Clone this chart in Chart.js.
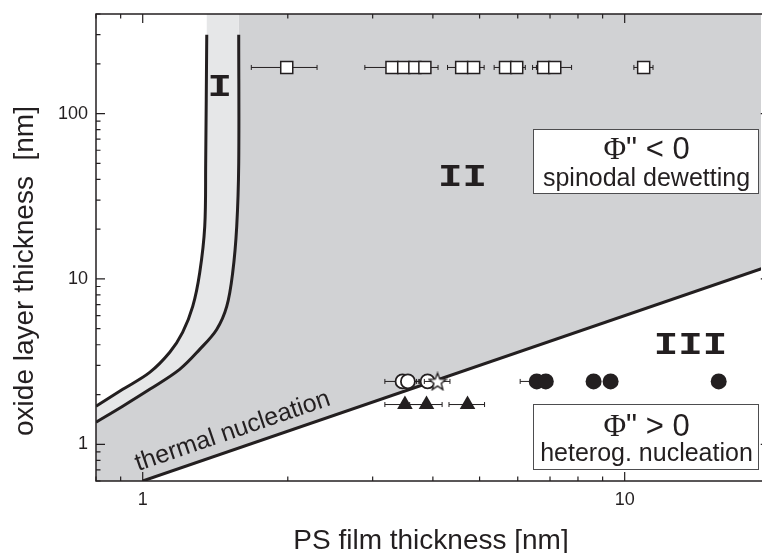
<!DOCTYPE html>
<html>
<head>
<meta charset="utf-8">
<script src="https://cdn.jsdelivr.net/npm/chart.js@4.4.1/dist/chart.umd.min.js"></script>
<style>
  html, body { margin: 0; padding: 0; background: #fff; overflow: hidden; }
</style>
</head>
<body>
<canvas id="phaseChart" width="762" height="553"></canvas>
<script>
// visible x range ends at the picture edge; the right axis itself sits at x = 20, just off-canvas
const xMin = 0.8, xMax = 19.18, xAxisRight = 20, yMin = 0.6, yMax = 400;

// boundary of region I (outer / left curve)
const outerX = [1.358, 1.351, 1.345, 1.313, 1.27, 1.21, 1.138, 1.034, 0.909, 0.8];
const outerY = [300, 50, 20.8, 10.9, 6.82, 4.75, 3.6, 2.72, 2.15, 1.7];
// boundary of region I (inner / right curve)
const innerX = [1.582, 1.582, 1.567, 1.537, 1.494, 1.424, 1.313, 1.193, 1.034, 0.909, 0.8];
const innerY = [300, 50, 20.8, 10.9, 6.82, 4.95, 3.75, 2.84, 2.15, 1.7, 1.36];
// thermal nucleation line
const thermalX = [1, 20];
const thermalY = [0.6, 12];

// measured points
const squareX = [1.99, 3.29, 3.48, 3.67, 3.85, 4.59, 4.86, 5.66, 5.97, 6.79, 7.16, 10.95];
const squareErr = [0.31, 0.4, 0.2, 0.2, 0.25, 0.3, 0.25, 0.3, 0.25, 0.35, 0.6, 0.5];
const squareY = 190;
const openCircleX = [3.46, 3.55, 3.9];
const openCircleErr = [0.28, 0.2, 0.2];
const starX = [4.09];
const starErr = [0.25];
const circleRowY = 2.4;
const filledCircleX = [6.57, 6.86, 8.62, 9.35, 15.67];
const filledCircleErr = [0.5, 0, 0, 0, 0];
const triangleX = [3.5, 3.88, 4.72];
const triangleErr = [0.32, 0.3, 0.4];
const triangleY = 1.74;

const ink = '#231f20';
const sans = "'Liberation Sans', Arial, sans-serif";

function pts(xs, ys) { return xs.map((x, i) => ({ x: x, y: Array.isArray(ys) ? ys[i] : ys })); }

const lightRegion = [{ x: outerX[0], y: yMax }].concat(pts(outerX, outerY))
  .concat(pts(innerX, innerY).reverse()).concat([{ x: innerX[0], y: yMax }]);
const darkRegion = [{ x: innerX[0], y: yMax }].concat(pts(innerX, innerY))
  .concat([{ x: xMin, y: yMin }]).concat(pts(thermalX, thermalY))
  .concat([{ x: xAxisRight, y: yMax }, { x: innerX[0], y: yMax }]);

const starImg = document.createElement('canvas');
starImg.width = 20; starImg.height = 20;
(function () {
  const c = starImg.getContext('2d');
  c.beginPath();
  for (let i = 0; i < 10; i++) {
    const r = i % 2 === 0 ? 9 : 3.9;
    const a = -Math.PI / 2 + i * Math.PI / 5;
    const px = 10 + r * Math.cos(a), py = 10.8 + r * Math.sin(a);
    if (i === 0) c.moveTo(px, py); else c.lineTo(px, py);
  }
  c.closePath();
  c.fillStyle = '#fff';
  c.fill();
  c.lineWidth = 1.4;
  c.strokeStyle = ink;
  c.stroke();
})();

function logSteps(lo, hi, fn) {
  for (let d = Math.floor(Math.log10(lo)); d <= Math.ceil(Math.log10(hi)); d++) {
    for (let m = 1; m <= 9; m++) {
      const v = m * Math.pow(10, d);
      if (v < lo * 0.999 || v > hi * 1.001) continue;
      fn(v, m === 1);
    }
  }
}

const decorations = {
  id: 'decorations',
  beforeDatasetDraw(chart, args) {
    const ds = chart.data.datasets[args.index];
    if (!ds.xErr) return;
    const ctx = chart.ctx, xs = chart.scales.x, ys = chart.scales.y;
    ctx.save();
    ctx.strokeStyle = ink;
    ctx.lineWidth = 1;
    ds.data.forEach((p, i) => {
      const e = ds.xErr[i];
      if (!e) return;
      const x1 = xs.getPixelForValue(p.x - e), x2 = xs.getPixelForValue(p.x + e);
      const y = ys.getPixelForValue(p.y);
      ctx.beginPath();
      ctx.moveTo(x1, y); ctx.lineTo(x2, y);
      ctx.moveTo(x1, y - 2.5); ctx.lineTo(x1, y + 2.5);
      ctx.moveTo(x2, y - 2.5); ctx.lineTo(x2, y + 2.5);
      ctx.stroke();
    });
    ctx.restore();
  },
  afterDatasetsDraw(chart) {
    const ctx = chart.ctx, a = chart.chartArea, xs = chart.scales.x, ys = chart.scales.y;
    const px = v => xs.getPixelForValue(v), py = v => ys.getPixelForValue(v);
    const L = a.left, T = a.top, B = a.bottom, R = px(xAxisRight);
    ctx.save();
    // frame and inside ticks
    ctx.strokeStyle = ink;
    ctx.lineWidth = 1.5;
    ctx.strokeRect(L, T, R - L, B - T);
    ctx.lineWidth = 1.2;
    ctx.beginPath();
    logSteps(xMin, xAxisRight, (v, major) => {
      const len = major ? 9 : 4.5, p = px(v);
      ctx.moveTo(p, B); ctx.lineTo(p, B - len);
      ctx.moveTo(p, T); ctx.lineTo(p, T + len);
    });
    logSteps(yMin, yMax, (v, major) => {
      const len = major ? 9 : 4.5, p = py(v);
      ctx.moveTo(L, p); ctx.lineTo(L + len, p);
      ctx.moveTo(R, p); ctx.lineTo(R - len, p);
    });
    ctx.stroke();

    // region numerals
    ctx.fillStyle = ink;
    ctx.textAlign = 'center';
    ctx.textBaseline = 'middle';
    ctx.font = "bold 34px 'Liberation Mono', 'Courier New', monospace";
    [['I', 1.445, 143], ['II', 4.61, 40.5], ['III', 13.7, 3.91]].forEach(r => {
      ctx.save();
      ctx.translate(px(r[1]), py(r[2]));
      ctx.scale(1.2, 0.92);
      ctx.fillText(r[0], 0, 0);
      ctx.restore();
    });

    // boxes
    function box(x1, y1, x2, y2, sign, line2, base1) {
      const l = Math.round(px(x1)), t = Math.round(py(y1)), r = Math.round(px(x2)), b = Math.round(py(y2));
      ctx.fillStyle = '#fff';
      ctx.fillRect(l, t, r - l, b - t);
      ctx.strokeStyle = '#4d4d4f';
      ctx.lineWidth = 1;
      ctx.strokeRect(l + 0.5, t + 0.5, r - l, b - t);
      ctx.fillStyle = ink;
      const cx = (l + r) / 2 + 1;
      ctx.textBaseline = 'alphabetic';
      ctx.font = "31px 'Liberation Serif', 'Times New Roman', serif";
      const phiW = ctx.measureText('\u03A6').width;
      ctx.font = '31px ' + sans;
      const restTxt = '" ' + sign + ' 0';
      const restW = ctx.measureText(restTxt).width;
      const start = cx - (phiW + restW) / 2;
      ctx.textAlign = 'left';
      ctx.font = "31px 'Liberation Serif', 'Times New Roman', serif";
      ctx.fillText('\u03A6', start, t + base1);
      ctx.font = '31px ' + sans;
      ctx.fillText(restTxt, start + phiW, t + base1);
      ctx.textAlign = 'center';
      ctx.font = '25px ' + sans;
      ctx.fillText(line2, cx, t + 57);
    }
    box(6.45, 81.2, 18.9, 33.3, '<', 'spinodal dewetting', 30);
    box(6.45, 1.745, 18.9, 0.706, '>', 'heterog. nucleation', 32);

    // thermal nucleation label along the line
    const p1x = px(thermalX[0]), p1y = py(thermalY[0]);
    const p2x = px(thermalX[1]), p2y = py(thermalY[1]);
    const ang = Math.atan2(p2y - p1y, p2x - p1x);
    const nx = Math.sin(ang), ny = -Math.cos(ang);
    ctx.save();
    ctx.translate(p1x - 1 + nx * 10.5, p1y + ny * 10.5);
    ctx.rotate(ang);
    ctx.font = '25px ' + sans;
    ctx.textAlign = 'left';
    ctx.textBaseline = 'alphabetic';
    ctx.fillStyle = ink;
    ctx.fillText('thermal nucleation', 0, 0);
    ctx.restore();

    // axis titles
    ctx.font = '28px ' + sans;
    ctx.textAlign = 'center';
    ctx.fillText('PS film thickness [nm]', 431, 549);
    ctx.save();
    ctx.translate(33, 271);
    ctx.rotate(-Math.PI / 2);
    ctx.fillText('oxide layer thickness  [nm]', 0, 0);
    ctx.restore();
    ctx.restore();
  }
};

function decadeLabel(v) {
  const l = Math.log10(v);
  return Math.abs(l - Math.round(l)) < 1e-6 ? String(Math.round(v)) : '';
}

new Chart(document.getElementById('phaseChart'), {
  type: 'scatter',
  data: {
    datasets: [
      { label: 'squares', data: pts(squareX, squareY), xErr: squareErr, order: 1,
        pointStyle: 'rect', pointRadius: 8.5, pointBackgroundColor: '#fff', pointBorderColor: ink, pointBorderWidth: 1.5 },
      { label: 'open circles', data: pts(openCircleX, circleRowY), xErr: openCircleErr, order: 1,
        pointStyle: 'circle', pointRadius: 7, pointBackgroundColor: '#fff', pointBorderColor: ink, pointBorderWidth: 1.8 },
      { label: 'star', data: pts(starX, circleRowY), xErr: starErr, order: 0,
        pointStyle: starImg, pointRadius: 10 },
      { label: 'filled circles', data: pts(filledCircleX, circleRowY), xErr: filledCircleErr, order: 1,
        pointStyle: 'circle', pointRadius: 8, pointBackgroundColor: ink, pointBorderColor: ink, pointBorderWidth: 0 },
      { label: 'triangles', data: pts(triangleX, triangleY), xErr: triangleErr, order: 1,
        pointStyle: 'triangle', pointRadius: 9, pointBackgroundColor: ink, pointBorderColor: ink, pointBorderWidth: 0 },
      { label: 'outer curve', data: pts(outerX, outerY), showLine: true, tension: 0.35, order: 5,
        borderColor: ink, borderWidth: 3, pointRadius: 0, fill: false },
      { label: 'inner curve', data: pts(innerX, innerY), showLine: true, tension: 0.35, order: 5,
        borderColor: ink, borderWidth: 3, pointRadius: 0, fill: false },
      { label: 'thermal nucleation', data: pts(thermalX, thermalY), showLine: true, order: 5,
        borderColor: ink, borderWidth: 3, pointRadius: 0, fill: false },
      { label: 'region I', data: lightRegion, showLine: true, order: 10, tension: 0,
        borderWidth: 0, borderColor: 'rgba(0,0,0,0)', pointRadius: 0, fill: 'shape', backgroundColor: '#e6e7e8' },
      { label: 'region II', data: darkRegion, showLine: true, order: 10, tension: 0,
        borderWidth: 0, borderColor: 'rgba(0,0,0,0)', pointRadius: 0, fill: 'shape', backgroundColor: '#d1d2d4' }
    ]
  },
  options: {
    responsive: false,
    animation: false,
    layout: { autoPadding: false, padding: { top: 14, right: 1, left: 0, bottom: 0 } },
    plugins: { legend: { display: false }, tooltip: { enabled: false } },
    scales: {
      x: {
        type: 'logarithmic', min: xMin, max: xMax,
        grid: { display: false, drawTicks: true, tickLength: 8 }, border: { display: false },
        ticks: { autoSkip: false, maxRotation: 0, padding: 0, color: ink, font: { size: 18, family: sans }, callback: decadeLabel },
        afterFit(scale) { scale.height = 72; }
      },
      y: {
        type: 'logarithmic', min: yMin, max: yMax,
        grid: { display: false, drawTicks: true, tickLength: 8 }, border: { display: false },
        ticks: { autoSkip: false, padding: 0, color: ink, font: { size: 18, family: sans }, callback: decadeLabel },
        afterFit(scale) { scale.width = 96; }
      }
    }
  },
  plugins: [decorations]
});
</script>
</body>
</html>
